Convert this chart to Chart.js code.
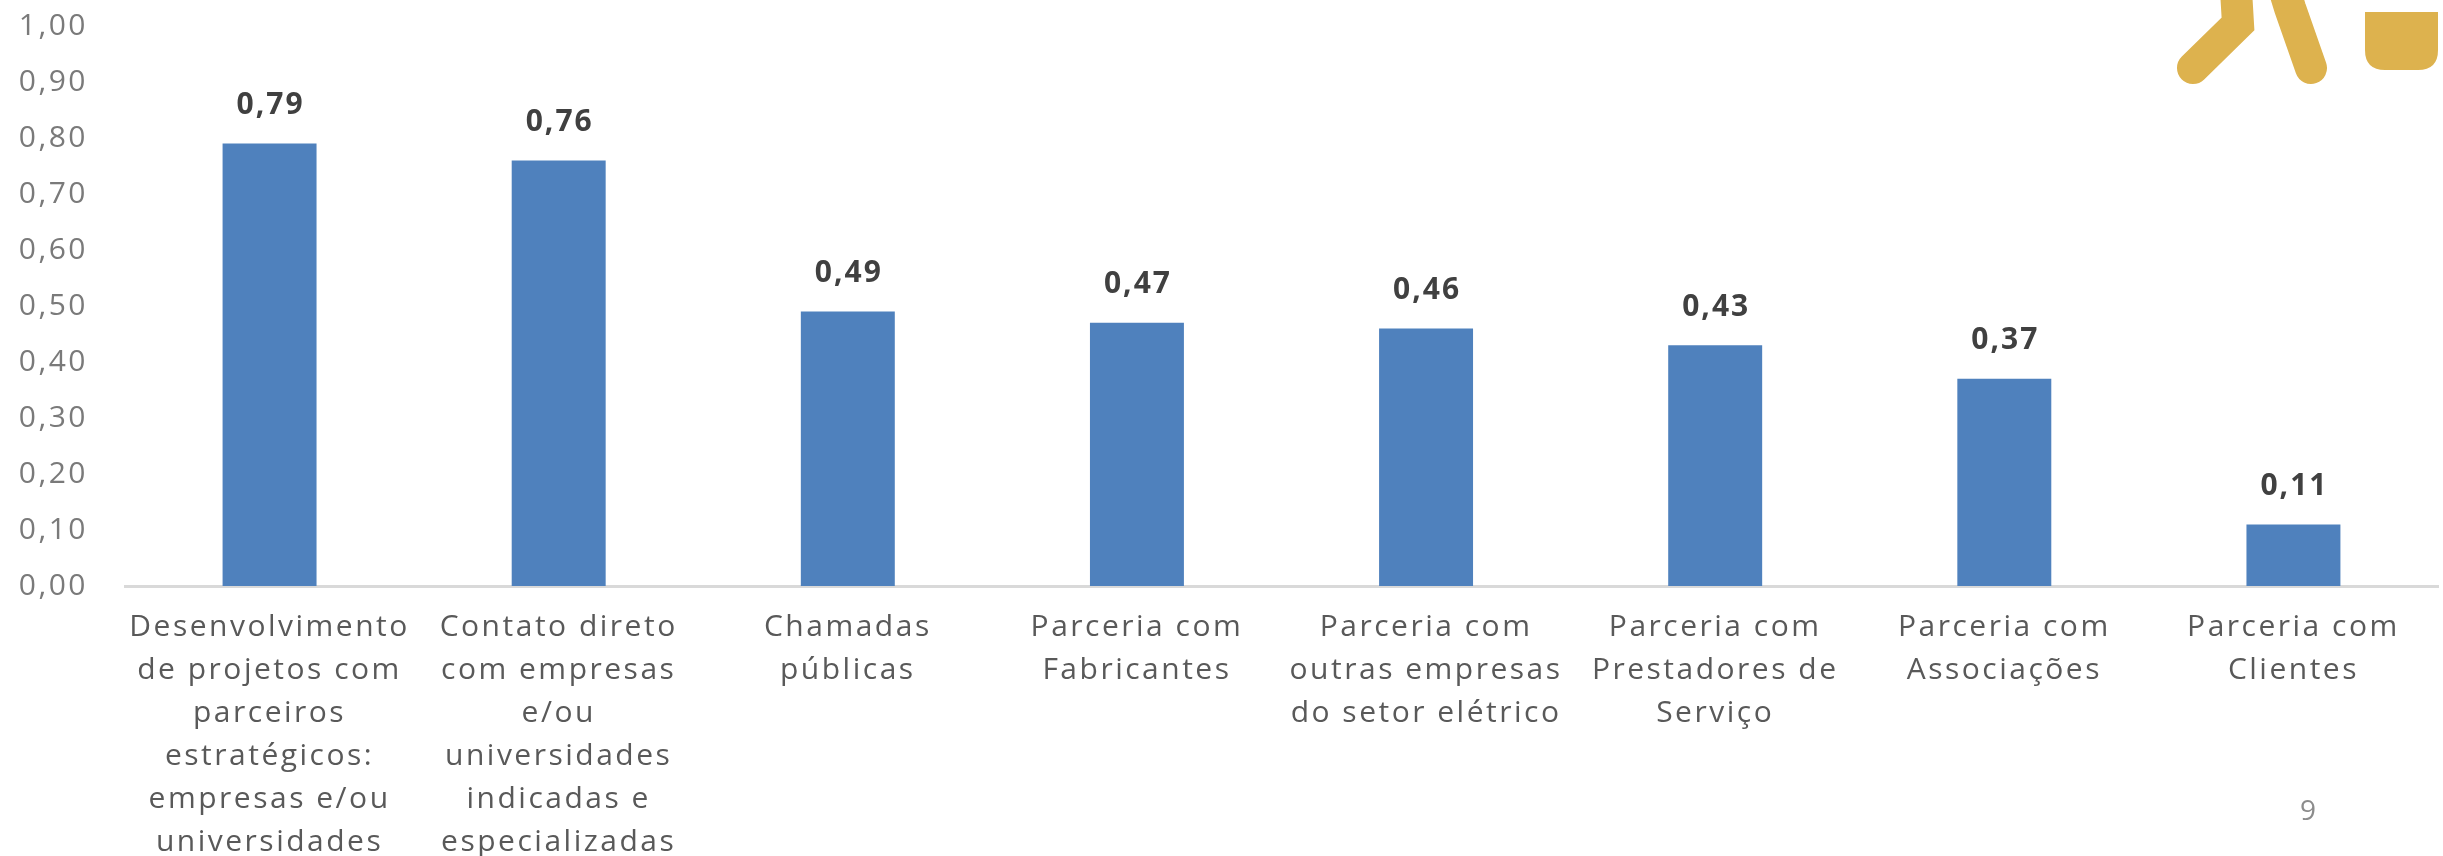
<!DOCTYPE html>
<html>
<head>
<meta charset="utf-8">
<script src="https://cdn.jsdelivr.net/npm/chart.js@4/dist/chart.umd.min.js"></script>
<style>
    html, body { margin: 0; padding: 0; background: #fff; }
    #wrap { position: relative; width: 2443px; height: 856px; overflow: hidden; }
    #logo { position: absolute; left: 0; top: 0; }
    #pageNum { position: absolute; left: 2300px; top: 790px; font: 28px "Open Sans", sans-serif; color: #8c8c8c; }
</style>
</head>
<body>
<div id="wrap">
    <canvas id="chartBars" width="2443" height="856"></canvas>
    <svg id="logo" width="2443" height="856">
        <g stroke="#DDB24E" stroke-width="32" stroke-linecap="round" fill="none">
            <path d="M2193 68 L2238 24 L2236 -10"/>
            <path d="M2286 -5 L2290 8 L2311 68"/>
        </g>
        <path d="M2365 12 L2438 12 L2438 50 Q2438 70 2418 70 L2385 70 Q2365 70 2365 50 Z" fill="#DDB24E"/>
    </svg>
    <div id="pageNum">9</div>
</div>
<script>
const categories = [
    ["Desenvolvimento", "de projetos com", "parceiros", "estratégicos:", "empresas e/ou", "universidades"],
    ["Contato direto", "com empresas", "e/ou", "universidades", "indicadas e", "especializadas"],
    ["Chamadas", "públicas"],
    ["Parceria com", "Fabricantes"],
    ["Parceria com", "outras empresas", "do setor elétrico"],
    ["Parceria com", "Prestadores de", "Serviço"],
    ["Parceria com", "Associações"],
    ["Parceria com", "Clientes"]
];
const values = [0.79, 0.76, 0.49, 0.47, 0.46, 0.43, 0.37, 0.11];
const yMin = 0;
const yMax = 1;
const yStep = 0.1;

function fmt(v) {
    return v.toFixed(2).replace(".", ",");
}

// wider letter spacing, the original text is spread out
const spacing = {
    id: "spacing",
    beforeDraw(chart) {
        chart.ctx.letterSpacing = "2.5px";
    }
};

// draws the value on top of each bar
const barValues = {
    id: "barValues",
    afterDatasetsDraw(chart) {
        const ctx = chart.ctx;
        const meta = chart.getDatasetMeta(0);
        ctx.save();
        ctx.letterSpacing = "2px";
        ctx.font = "bold 30px 'Open Sans', sans-serif";
        ctx.fillStyle = "#404040";
        ctx.textAlign = "center";
        ctx.textBaseline = "middle";
        meta.data.forEach(function(bar, i) {
            ctx.fillText(fmt(values[i]), bar.x + 1, bar.y - 38);
        });
        ctx.restore();
    }
};

const ctx = document.getElementById("chartBars").getContext("2d");
const chartBars = new Chart(ctx, {
    type: "bar",
    data: {
        labels: categories,
        datasets: [{
            data: values,
            backgroundColor: "#4F81BD",
            borderWidth: 0,
            barPercentage: 0.325,
            categoryPercentage: 1
        }]
    },
    options: {
        responsive: false,
        animation: false,
        layout: { padding: { top: 26, right: 5, bottom: 0, left: 0 } },
        plugins: {
            legend: { display: false },
            tooltip: { enabled: false }
        },
        scales: {
            x: {
                grid: { display: false, drawTicks: false },
                border: { display: true, color: "#D9D9D9", width: 3 },
                ticks: {
                    color: "#595959",
                    font: { family: "'Open Sans', sans-serif", size: 30, lineHeight: 1.433 },
                    maxRotation: 0,
                    minRotation: 0,
                    autoSkip: false,
                    padding: 20
                },
                afterFit: function(scale) { scale.height = 270; }
            },
            y: {
                min: yMin,
                max: yMax,
                grid: { display: false, drawTicks: false },
                border: { display: false },
                ticks: {
                    stepSize: yStep,
                    color: "#7a7a7a",
                    font: { family: "'Open Sans', sans-serif", size: 30 },
                    padding: 37,
                    callback: function(value) { return fmt(value); }
                },
                afterFit: function(scale) {
                    scale.width = 125;
                    scale.paddingTop = 0;
                    scale.paddingBottom = 0;
                }
            }
        }
    },
    plugins: [spacing, barValues]
});
</script>
</body>
</html>
